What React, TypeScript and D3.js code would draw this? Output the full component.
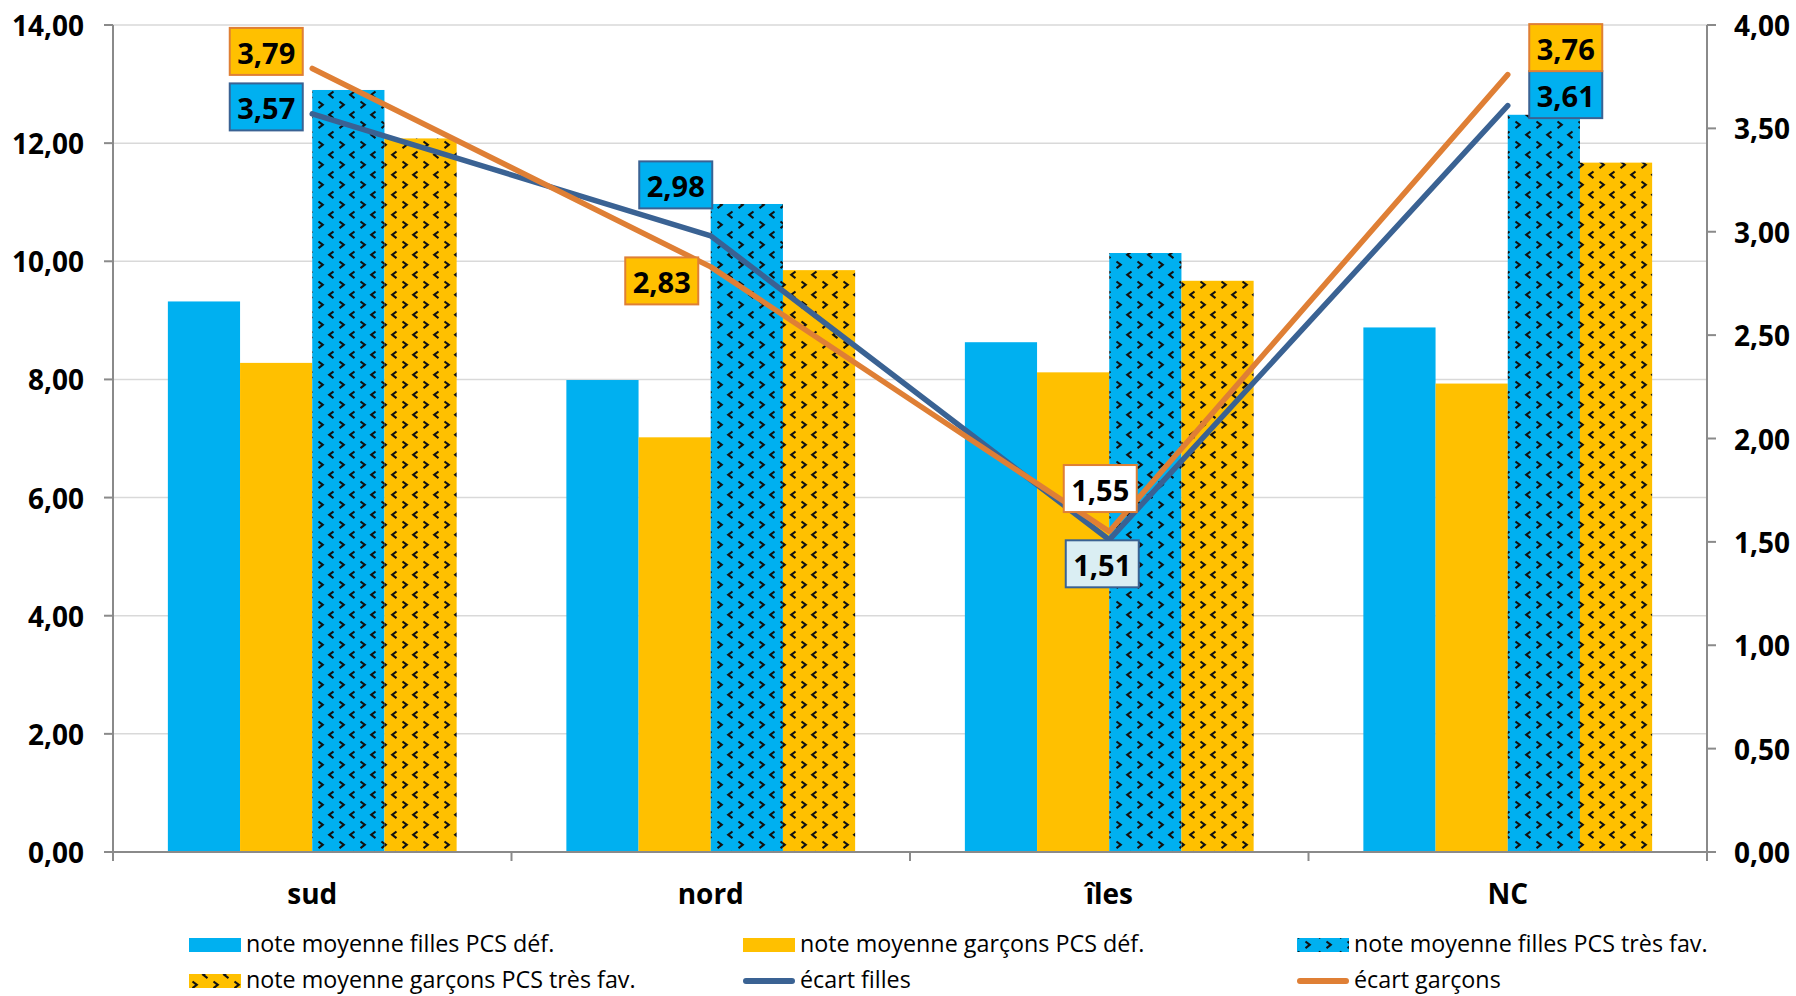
import React, { useEffect } from 'react';
import * as d3 from 'd3';

const categories = ['sud', 'nord', 'îles', 'NC'];
const barSeriesNames = [
  'note moyenne filles PCS déf.',
  'note moyenne garçons PCS déf.',
  'note moyenne filles PCS très fav.',
  'note moyenne garçons PCS très fav.',
];
const fillesDef = [9.32, 7.99, 8.63, 8.88];
const garconsDef = [8.28, 7.02, 8.12, 7.93];
const fillesFav = [12.9, 10.97, 10.14, 12.48];
const garconsFav = [12.08, 9.85, 9.67, 11.67];
const lineSeriesNames = ['écart filles', 'écart garçons'];
const ecartFilles = [3.57, 2.98, 1.51, 3.61];
const ecartGarcons = [3.79, 2.83, 1.55, 3.76];
const leftTicks = [0, 2, 4, 6, 8, 10, 12, 14];
const rightTicks = [0, 0.5, 1, 1.5, 2, 2.5, 3, 3.5, 4];

// styling
const BLUE = '#00B0F0';
const ORANGE = '#FFC000';
const LINE_BLUE = '#3A6293';
const LINE_ORANGE = '#DF7F35';
const AXIS = '#8A8A8A';
const GRID = '#D9D9D9';
const FONT = '"Open Sans", "DejaVu Sans", sans-serif';

const W = 1796;
const H = 996;
const X0 = 113;
const X1 = 1707;
const Y0 = 852;
const Y1 = 25;

// label box offsets (box centre relative to the point) and fills
const fillesLabelOffsets = [[-46, -7], [-35, -51], [-7, 24], [58, -11]];
const garconsLabelOffsets = [[-46, -17], [-49, 14], [-9, -43], [58, -27]];
const fillesLabelFills = [BLUE, BLUE, '#DAEEF3', BLUE];
const garconsLabelFills = [ORANGE, ORANGE, '#FFFFFF', ORANGE];

const fmt = (v: number) => d3.format('.2f')(v).replace('.', ',');

function Chevrons({ color }: { color: string }) {
  return (
    <>
      <rect x={0} y={0} width={21} height={20} fill={color} />
      <path d="M3.5,1.5 L7.8,4.8 L3.5,8.1" fill="none" stroke="#111" strokeWidth={2.1} />
      <path d="M18.5,11.5 L14.2,14.8 L18.5,18.1" fill="none" stroke="#111" strokeWidth={2.1} />
    </>
  );
}

export default function App() {
  useEffect(() => {
    document.body.style.margin = '0';
  }, []);

  const x = d3.scaleBand<string>().domain(categories).range([X0, X1]).padding(0);
  const inner = d3
    .scaleBand<number>()
    .domain([0, 1, 2, 3])
    .range([0, x.bandwidth()])
    .paddingInner(0)
    .paddingOuter(0.76);
  const yL = d3.scaleLinear().domain([0, 14]).range([Y0, Y1]);
  const yR = d3.scaleLinear().domain([0, 4]).range([Y0, Y1]);

  const barSeries = [fillesDef, garconsDef, fillesFav, garconsFav];
  const barFills = [BLUE, ORANGE, 'url(#patBlue)', 'url(#patOrange)'];

  const cx = (c: string) => (x(c) as number) + x.bandwidth() / 2;
  const line = d3
    .line<number>()
    .x((_, i) => cx(categories[i]))
    .y((d) => yR(d));

  const boundaries = [...categories.map((c) => x(c) as number), X1];

  const lineSets = [
    { vals: ecartFilles, color: LINE_BLUE, offs: fillesLabelOffsets, fills: fillesLabelFills },
    { vals: ecartGarcons, color: LINE_ORANGE, offs: garconsLabelOffsets, fills: garconsLabelFills },
  ];

  const legendCols = [189, 743, 1297];
  const legendRows = [945, 981];
  const legendItems = [
    ...barSeriesNames.map((n, i) => ({ name: n, kind: 'bar', fill: barFills[i] })),
    ...lineSeriesNames.map((n, i) => ({ name: n, kind: 'line', fill: lineSets[i].color })),
  ];

  const boxW = 73;
  const boxH = 47;

  return (
    <svg
      width={W}
      height={H}
      viewBox={`0 0 ${W} ${H}`}
      style={{ display: 'block', background: '#fff' }}
      fontFamily={FONT}
    >
      <defs>
        <pattern id="patBlue" patternUnits="userSpaceOnUse" width={21} height={20}>
          <Chevrons color={BLUE} />
        </pattern>
        <pattern id="patOrange" patternUnits="userSpaceOnUse" width={21} height={20}>
          <Chevrons color={ORANGE} />
        </pattern>
      </defs>
      <rect x={0} y={0} width={W} height={H} fill="#fff" />

      {/* gridlines */}
      {leftTicks
        .filter((t) => t > 0)
        .map((t) => (
          <line key={'g' + t} x1={X0} x2={X1} y1={yL(t)} y2={yL(t)} stroke={GRID} strokeWidth={1.5} />
        ))}

      {/* bars */}
      {categories.map((c, ci) =>
        barSeries.map((s, si) => (
          <rect
            key={c + si}
            x={(x(c) as number) + (inner(si) as number)}
            y={yL(s[ci])}
            width={inner.bandwidth()}
            height={Y0 - yL(s[ci])}
            fill={barFills[si]}
          />
        ))
      )}

      {/* axes */}
      <line x1={X0} x2={X0} y1={Y1} y2={Y0} stroke={AXIS} strokeWidth={2} />
      <line x1={X1} x2={X1} y1={Y1} y2={Y0} stroke={AXIS} strokeWidth={2} />
      <line x1={X0 - 9} x2={X1 + 9} y1={Y0} y2={Y0} stroke={AXIS} strokeWidth={2} />
      {leftTicks.map((t) => (
        <g key={'l' + t}>
          <line x1={X0 - 9} x2={X0} y1={yL(t)} y2={yL(t)} stroke={AXIS} strokeWidth={2} />
          <text
            x={84}
            y={yL(t)}
            textAnchor="end"
            dominantBaseline="central"
            fontSize={28}
            fontWeight={700}
            fill="#000"
          >
            {fmt(t)}
          </text>
        </g>
      ))}
      {rightTicks.map((t) => (
        <g key={'r' + t}>
          <line x1={X1} x2={X1 + 9} y1={yR(t)} y2={yR(t)} stroke={AXIS} strokeWidth={2} />
          <text
            x={1734}
            y={yR(t)}
            textAnchor="start"
            dominantBaseline="central"
            fontSize={28}
            fontWeight={700}
            fill="#000"
          >
            {fmt(t)}
          </text>
        </g>
      ))}
      {boundaries.map((b, i) => (
        <line key={'b' + i} x1={b} x2={b} y1={Y0} y2={Y0 + 9} stroke={AXIS} strokeWidth={2} />
      ))}
      {categories.map((c) => (
        <text key={'c' + c} x={cx(c)} y={904} textAnchor="middle" fontSize={28} fontWeight={700} fill="#000">
          {c}
        </text>
      ))}

      {/* lines */}
      {lineSets.map((ls, i) => (
        <path
          key={'line' + i}
          d={line(ls.vals) as string}
          fill="none"
          stroke={ls.color}
          strokeWidth={5.5}
          strokeLinejoin="round"
          strokeLinecap="round"
        />
      ))}

      {/* data labels */}
      {lineSets.map((ls, i) =>
        ls.vals.map((v, j) => {
          const px = cx(categories[j]) + ls.offs[j][0];
          const py = yR(v) + ls.offs[j][1];
          return (
            <g key={'lab' + i + j}>
              <rect
                x={px - boxW / 2}
                y={py - boxH / 2}
                width={boxW}
                height={boxH}
                fill={ls.fills[j]}
                stroke={ls.color}
                strokeWidth={2}
              />
              <text
                x={px}
                y={py + 1}
                textAnchor="middle"
                dominantBaseline="central"
                fontSize={29}
                fontWeight={700}
                fill="#000"
              >
                {fmt(v)}
              </text>
            </g>
          );
        })
      )}

      {/* legend */}
      {legendItems.map((it, k) => {
        const lx = legendCols[k % 3];
        const ly = legendRows[Math.floor(k / 3)];
        return (
          <g key={'leg' + k}>
            {it.kind === 'bar' ? (
              <rect x={lx} y={ly - 7} width={52} height={14} fill={it.fill} />
            ) : (
              <line
                x1={lx + 3}
                x2={lx + 52 - 3}
                y1={ly}
                y2={ly}
                stroke={it.fill}
                strokeWidth={6}
                strokeLinecap="round"
              />
            )}
            <text x={lx + 57} y={ly + 6.5} fontSize={23.3} fill="#000">
              {it.name}
            </text>
          </g>
        );
      })}
    </svg>
  );
}
